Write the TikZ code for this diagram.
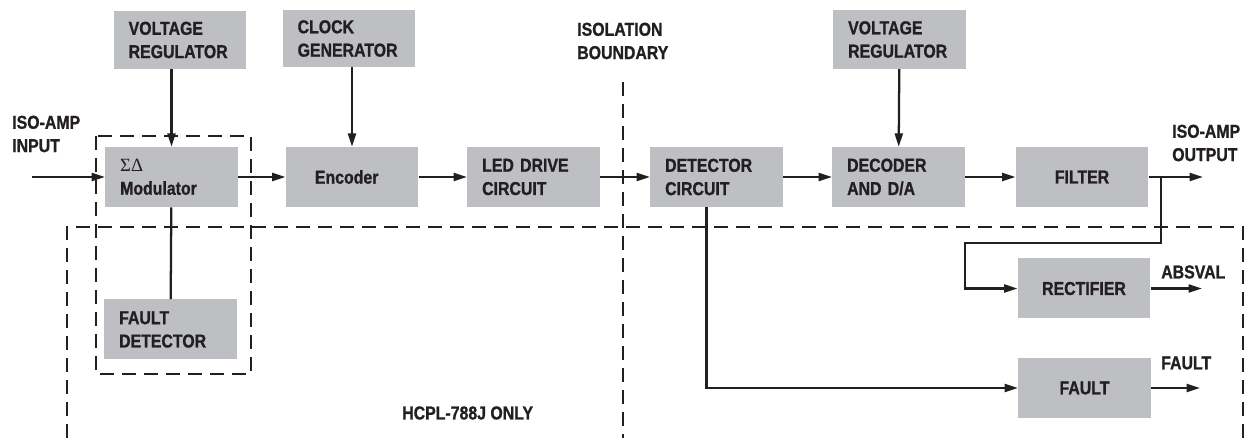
\documentclass[tikz,border=0pt]{standalone}
\usepackage{fontspec}
\setmainfont{Liberation Sans}[FakeStretch=0.85, BoldFeatures={FakeBold=1}]
\newfontfamily\greekfont{Liberation Serif}
\usepackage{tikz}
\usetikzlibrary{arrows.meta, positioning, calc}
\definecolor{blockgray}{RGB}{190,191,194}
\definecolor{inkblack}{RGB}{35,31,32}
\tikzstyle{block} = [rectangle, fill=blockgray, inner xsep=11.25pt, inner ysep=0pt, text width=77pt, minimum height=45pt, align=left, text=inkblack]
\tikzstyle{cblock} = [block, align=center]
\tikzstyle{arrow} = [line width=1.7pt, -{Triangle[length=10pt, width=6pt]}, color=inkblack]
\tikzstyle{wire} = [line width=1.7pt, color=inkblack]
\tikzstyle{boundary} = [line width=2pt, dash pattern=on 10.5pt off 6pt, color=inkblack]
\tikzstyle{lbl} = [anchor=west, align=left, inner sep=0pt, text=inkblack]

\begin{document}
\begin{tikzpicture}[x=0.75pt, y=-0.75pt, every node/.style={font=\bfseries\fontsize{14}{17.5}\selectfont}]
    \useasboundingbox (0,0) rectangle (1254,438);

    % top row
    \node[block, minimum height=43pt] (vreg1) at (180,40) {VOLTAGE\\REGULATOR};
    \node[block, minimum height=43pt] (clkgen) at (349,38.5) {CLOCK\\GENERATOR};
    \node[block, minimum height=44pt] (vreg2) at (899.5,39.5) {VOLTAGE\\REGULATOR};

    % signal path
    \node[block] (mod) at (171.5,177) {{\greekfont\mdseries ΣΔ}\\Modulator};
    \node[cblock] (enc) at (352,177) {Encoder\hspace*{8pt}};
    \node[block] (led) at (533.5,177) {LED DRIVE\\CIRCUIT};
    \node[block] (det) at (716.5,177) {DETECTOR\\CIRCUIT};
    \node[block] (dec) at (898.5,177) {DECODER\\AND D/A};
    \node[cblock] (filt) at (1082,177) {FILTER};

    % HCPL-788J part
    \node[block] (fdet) at (170.5,329.5) {FAULT\\DETECTOR};
    \node[cblock] (rect) at (1084,288.5) {RECTIFIER};
    \node[cblock] (flt) at (1084.5,388) {FAULT};

    % labels
    \node[lbl] (inlbl) at (12,134) {ISO-AMP\\INPUT};
    \node[lbl] (outlbl) at (1172,143) {ISO-AMP\\OUTPUT};
    \node[lbl] (isolbl) at (577,41) {ISOLATION\\BOUNDARY};
    \node[lbl] (abslbl) at (1161,272) {ABSVAL};
    \node[lbl] (faultlbl) at (1161,363) {FAULT};
    \node[lbl] (hcpllbl) at (402,413) {HCPL-788J ONLY};

    \coordinate (in) at (32,177);
    \coordinate (out) at (1203,177);
    \coordinate (br) at (1161,177);
    \coordinate (bend) at (965,243);
    \coordinate (absout) at (1202,288.5);
    \coordinate (faultout) at (1200,388);

    \draw[arrow] (in) -- (mod);
    \draw[arrow] (mod) -- (enc);
    \draw[arrow] (enc) -- (led);
    \draw[arrow] (led) -- (det);
    \draw[arrow] (det) -- (dec);
    \draw[arrow] (dec) -- (filt);
    \draw[arrow] (filt) -- (out);
    \draw[arrow] (mod.north |- vreg1.south) -- (mod.north);
    \draw[arrow] (enc.north |- clkgen.south) -- (enc.north);
    \draw[arrow] (vreg2) -- (dec);
    \draw[wire] (mod) -- (fdet);
    \draw[arrow] (br) |- (bend) |- (rect.west);
    \draw[arrow] ([xshift=-7.5pt]det.south) |- (flt.west);
    \draw[arrow] (rect) -- (absout);
    \draw[arrow] (flt) -- (faultout);

    % dashed outlines
    \draw[boundary] (623,82) -- (623,438);
    \draw[boundary] (96,136) rectangle (251,374);
    \draw[boundary] (67,438) -- (67,227) -- (1243,227) -- (1243,438);
\end{tikzpicture}
\end{document}
